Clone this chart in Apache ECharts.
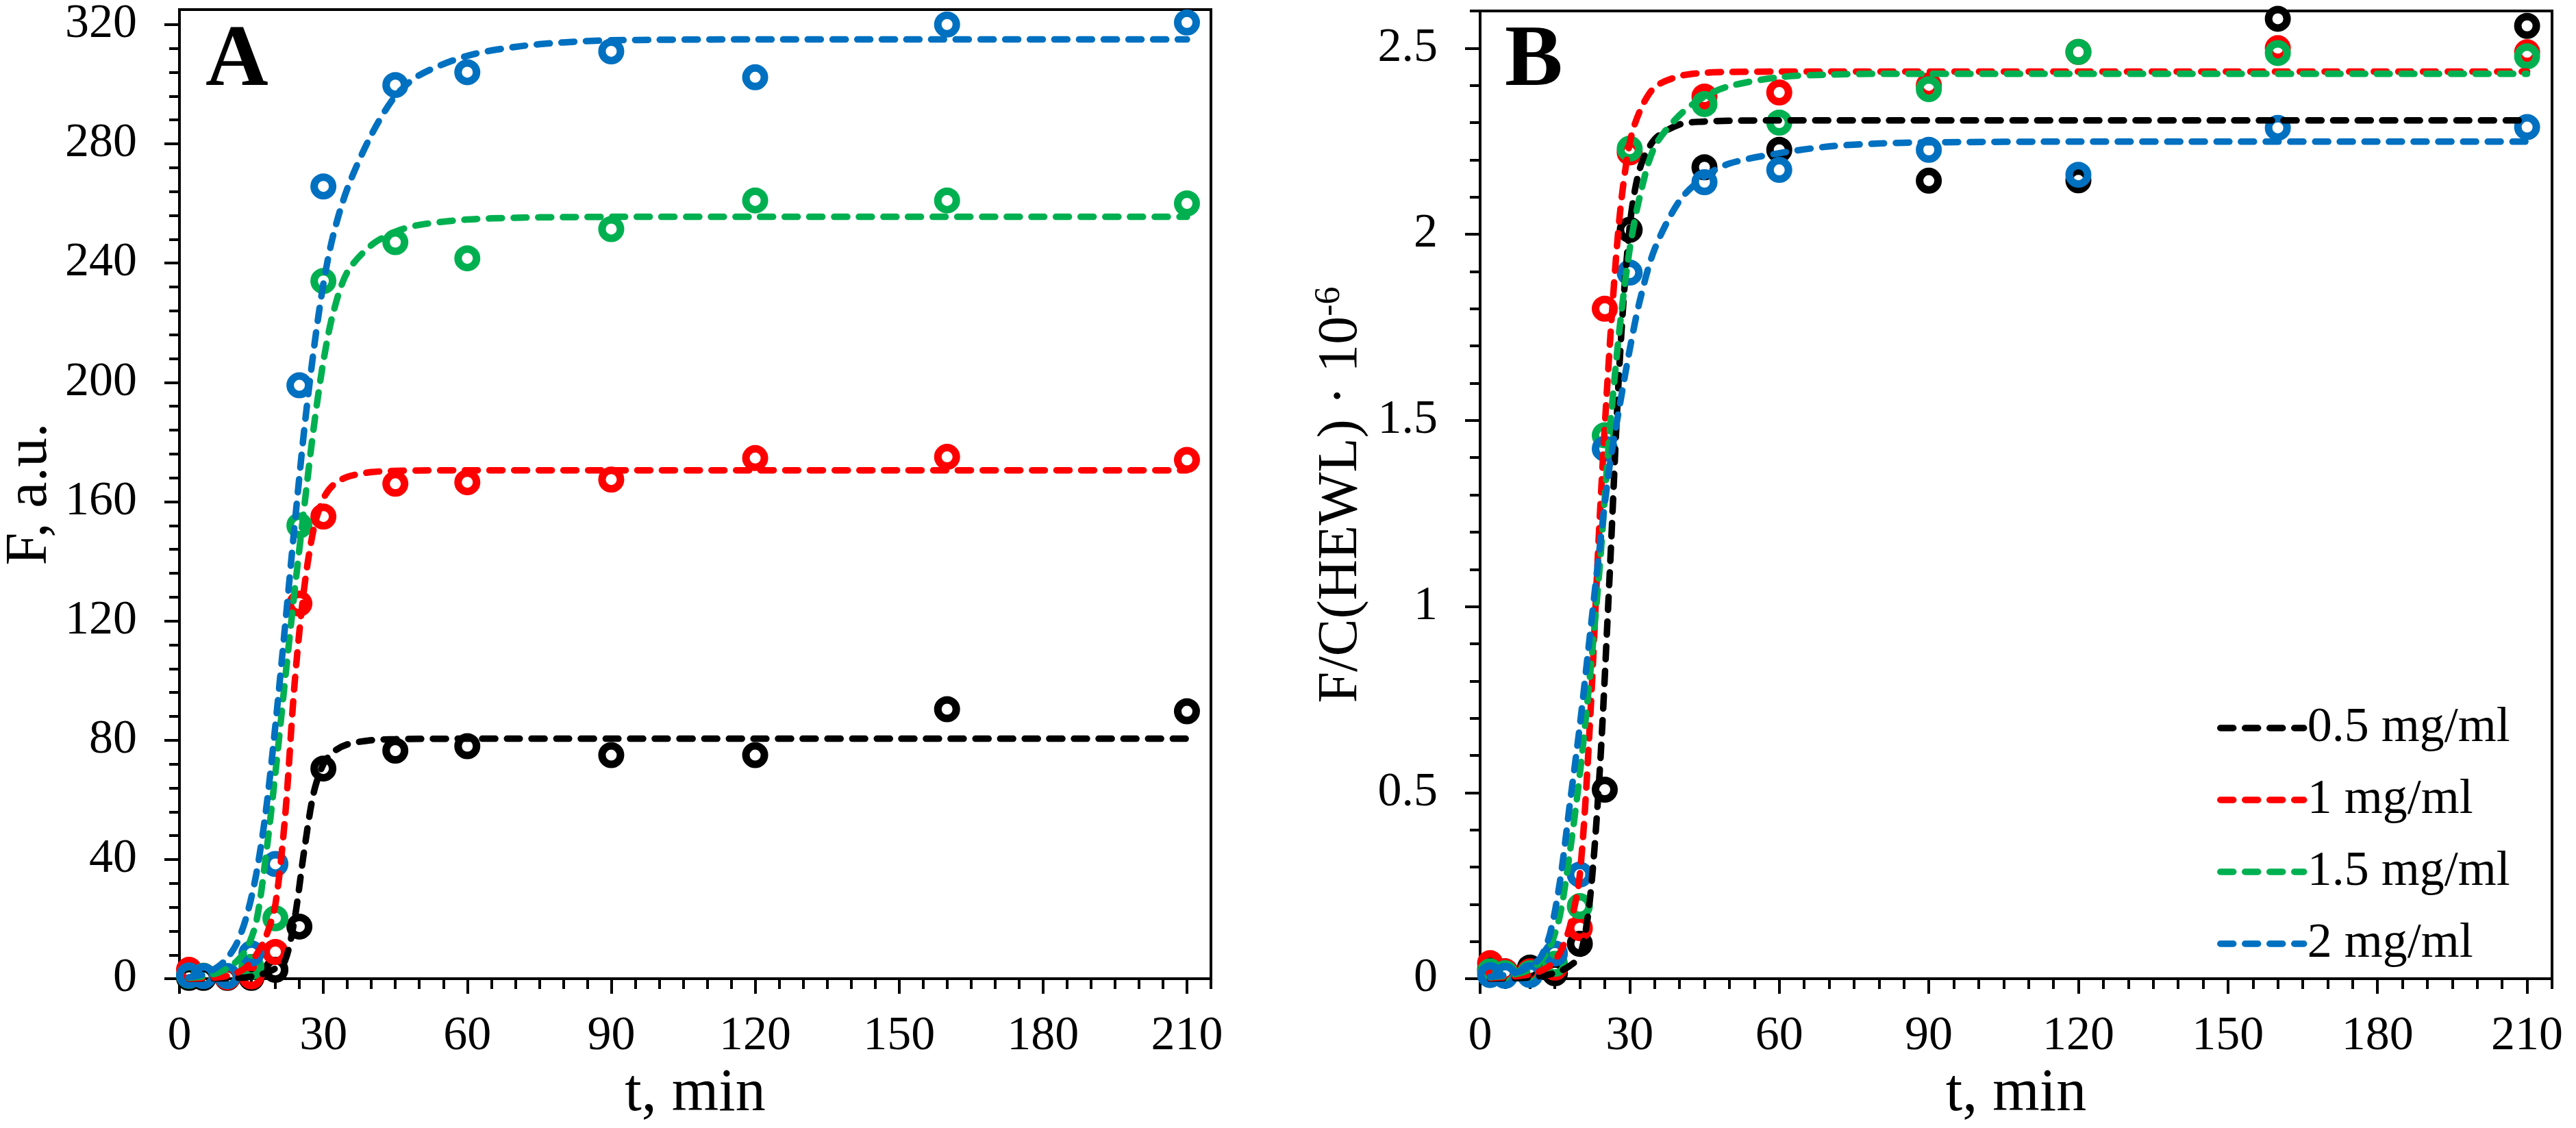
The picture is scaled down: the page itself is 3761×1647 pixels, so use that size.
<!DOCTYPE html>
<html><head><meta charset="utf-8">
<script src="https://cdn.jsdelivr.net/npm/echarts@6/dist/echarts.min.js"></script>
<style>html,body{margin:0;padding:0;background:#fff}#c{width:3761px;height:1647px}</style>
</head><body><div id="c"></div>
<script>
// ---------- data ----------
const seriesNames = ['0.5 mg/ml', '1 mg/ml', '1.5 mg/ml', '2 mg/ml'];
const colors = ['#000000', '#FF0000', '#00B050', '#0070C0'];

// measured points (circles)
const tPts = [2, 5, 10, 15, 20, 25, 30, 45, 60, 90, 120, 160, 210];
const ptsA_05 = [0.3, 0.3, 0.3, 0.3, 3, 17.5, 70.5, 76.5, 78, 75, 75, 90.4, 89.7];
const ptsA_1  = [3, 1, 0.5, 0.8, 9, 125.8, 155, 166, 166.5, 167.4, 174.6, 175, 174];
const ptsA_15 = [1, 1, 0.9, 4, 20.3, 152, 234, 247, 241.6, 251.4, 261, 261, 260];
const ptsA_2  = [1.1, 0.9, 0.9, 8.5, 38.5, 199, 265.7, 299.7, 304, 311, 302.3, 320, 320.7];

const ptsB_05 = [0.025, 0.02, 0.03, 0.015, 0.094, 0.508, 2.012, 2.18, 2.227, 2.144, 2.145, 2.579, 2.56];
const ptsB_1  = [0.042, 0.02, 0.02, 0.03, 0.136, 1.80, 2.22, 2.37, 2.381, 2.40, 2.49, 2.50, 2.489];
const ptsB_15 = [0.02, 0.015, 0.015, 0.04, 0.195, 1.46, 2.23, 2.35, 2.30, 2.39, 2.49, 2.487, 2.478];
const ptsB_2  = [0.01, 0.008, 0.01, 0.068, 0.28, 1.424, 1.897, 2.14, 2.173, 2.227, 2.16, 2.286, 2.288];

// fitted curves (dashed)
const tFit = [2, 5, 8, 10, 12, 14, 16, 18, 20, 22, 24, 26, 28, 30, 32, 35, 40, 45, 50, 60, 70, 80, 90, 120, 150, 180, 210];
const fitA_05 = [0, 0, 0.1, 0.2, 0.3, 0.5, 1, 2, 3.5, 6, 20, 43, 62.5, 72, 76, 78.6, 80, 80.35, 80.45, 80.5, 80.5, 80.5, 80.5, 80.5, 80.5, 80.5, 80.5];
const fitA_1  = [0, 0.2, 0.5, 1, 2, 4, 8, 14, 25, 54, 99, 131, 151, 161, 165.5, 168.3, 169.9, 170.3, 170.45, 170.5, 170.5, 170.5, 170.5, 170.5, 170.5, 170.5, 170.5];
const fitA_15 = [0.3, 0.8, 2, 3.5, 6, 10, 19, 41, 69, 100, 130, 158, 185, 207, 223, 237, 246, 250.5, 252.8, 254.6, 255.2, 255.4, 255.5, 255.5, 255.5, 255.5, 255.5];
const fitA_2  = [0.5, 1.5, 4, 7, 12, 21, 35, 56, 85, 118, 152, 184, 211, 233, 249, 265, 283, 296, 303, 309.5, 312.5, 314, 314.7, 315, 315, 315, 315];

const fitB_05 = [0, 0.001, 0.002, 0.004, 0.007, 0.012, 0.02, 0.035, 0.06, 0.21, 0.56, 1.09, 1.66, 2.02, 2.175, 2.255, 2.295, 2.303, 2.305, 2.306, 2.306, 2.306, 2.306, 2.306, 2.306, 2.306, 2.306];
const fitB_1  = [0.002, 0.004, 0.008, 0.012, 0.02, 0.035, 0.07, 0.14, 0.28, 0.68, 1.24, 1.70, 2.05, 2.245, 2.33, 2.395, 2.425, 2.434, 2.436, 2.437, 2.437, 2.437, 2.437, 2.437, 2.437, 2.437, 2.437];
const fitB_15 = [0.004, 0.008, 0.015, 0.025, 0.045, 0.085, 0.17, 0.34, 0.55, 0.81, 1.11, 1.47, 1.75, 1.96, 2.1, 2.235, 2.32, 2.37, 2.398, 2.422, 2.429, 2.431, 2.431, 2.431, 2.431, 2.431, 2.431];
const fitB_2  = [0.005, 0.01, 0.02, 0.035, 0.055, 0.12, 0.26, 0.47, 0.68, 0.92, 1.16, 1.38, 1.54, 1.69, 1.82, 1.96, 2.09, 2.155, 2.19, 2.218, 2.236, 2.244, 2.247, 2.249, 2.249, 2.249, 2.249];

// axis ticks
const xMajor = [0, 30, 60, 90, 120, 150, 180, 210];
const yMajorA = [0, 40, 80, 120, 160, 200, 240, 280, 320];
const yMinorA = [0, 8, 16, 24, 32, 40, 48, 56, 64, 72, 80, 88, 96, 104, 112, 120, 128, 136, 144, 152, 160, 168, 176, 184, 192, 200, 208, 216, 224, 232, 240, 248, 256, 264, 272, 280, 288, 296, 304, 312, 320];
const yMajorB = [0, 0.5, 1, 1.5, 2, 2.5];

// ---------- chart ----------
const FONT = 'Liberation Serif';
const chart = echarts.init(document.getElementById('c'), null, {renderer: 'canvas', devicePixelRatio: 1});

const grids = [
  {left: 260, top: 14, width: 1508, height: 1431},
  {left: 2161, top: 16, width: 1565, height: 1427}
];

const LINE_W = 9.5;
const DASH = [19, 17];

function majorX(gi) {
  return {
    type: 'value', gridIndex: gi, position: 'bottom', min: 0, max: 215, interval: 30,
    axisLine: {show: true, onZero: false, lineStyle: {color: '#000', width: 4}},
    axisTick: {show: true, inside: false, length: 22, lineStyle: {color: '#000', width: 4}, customValues: xMajor},
    axisLabel: {show: true, margin: 50, fontFamily: FONT, fontSize: 70, color: '#000', customValues: xMajor},
    splitLine: {show: false},
    name: 't, min', nameLocation: 'middle', nameGap: 114,
    nameTextStyle: {fontFamily: FONT, fontSize: 88, color: '#000'}
  };
}
function minorX(gi) {
  return {
    type: 'value', gridIndex: gi, position: 'bottom', min: 0, max: 215, interval: 5,
    axisLine: {show: false, onZero: false},
    axisTick: {show: true, inside: false, length: 15, lineStyle: {color: '#000', width: 4}},
    axisLabel: {show: false}, splitLine: {show: false}
  };
}

const option = {
  animation: false,
  backgroundColor: '#fff',
  grid: grids.map(g => Object.assign({show: true, borderColor: '#000', borderWidth: 4, backgroundColor: 'transparent'}, g)),
  title: [
    {text: 'A', left: 300, top: 28, padding: 0, textStyle: {fontFamily: FONT, fontSize: 127, fontWeight: 'bold', color: '#000'}},
    {text: 'B', left: 2197, top: 28, padding: 0, textStyle: {fontFamily: FONT, fontSize: 127, fontWeight: 'bold', color: '#000'}}
  ],
  legend: {
    show: true, orient: 'vertical', left: 3232, top: 1022,
    itemWidth: 122, itemHeight: 24, itemGap: 33,
    data: seriesNames,
    itemStyle: {opacity: 0},
    lineStyle: {width: LINE_W, type: DASH, cap: 'round'},
    textStyle: {fontFamily: FONT, fontSize: 72, color: '#000', lineHeight: 72}
  },
  xAxis: [majorX(0), minorX(0), majorX(1), minorX(1)],
  yAxis: [
    {
      type: 'value', gridIndex: 0, position: 'left', min: 0, max: 325, interval: 40,
      axisLine: {show: true, onZero: false, lineStyle: {color: '#000', width: 4}},
      axisTick: {show: true, inside: false, length: 22, lineStyle: {color: '#000', width: 4}, customValues: yMajorA},
      axisLabel: {show: true, margin: 62, fontFamily: FONT, fontSize: 70, color: '#000', customValues: yMajorA},
      splitLine: {show: false},
      name: 'F, a.u.', nameLocation: 'middle', nameGap: 175,
      nameTextStyle: {fontFamily: FONT, fontSize: 86, color: '#000'}
    },
    {
      type: 'value', gridIndex: 0, position: 'left', min: 0, max: 325, interval: 8,
      axisLine: {show: false, onZero: false},
      axisTick: {show: true, inside: false, length: 15, lineStyle: {color: '#000', width: 4}, customValues: yMinorA},
      axisLabel: {show: false}, splitLine: {show: false}
    },
    {
      type: 'value', gridIndex: 1, position: 'left', min: 0, max: 2.6, interval: 0.5,
      axisLine: {show: true, onZero: false, lineStyle: {color: '#000', width: 4}},
      axisTick: {show: true, inside: false, length: 22, lineStyle: {color: '#000', width: 4}, customValues: yMajorB},
      axisLabel: {show: true, margin: 62, fontFamily: FONT, fontSize: 70, color: '#000', customValues: yMajorB},
      splitLine: {show: false},
      name: 'F/C(HEWL) · 10{sup|-6}', nameLocation: 'middle', nameGap: 160,
      nameTextStyle: {fontFamily: FONT, fontSize: 82, color: '#000',
        rich: {sup: {fontFamily: FONT, fontSize: 52, color: '#000', verticalAlign: 'top', padding: [0, 0, 34, 0]}}}
    },
    {
      type: 'value', gridIndex: 1, position: 'left', min: 0, max: 2.6, interval: 0.1,
      axisLine: {show: false, onZero: false},
      axisTick: {show: true, inside: false, length: 15, lineStyle: {color: '#000', width: 4}},
      axisLabel: {show: false}, splitLine: {show: false}
    }
  ],
  series: []
};

const panels = [
  {xi: 0, yi: 0, pts: [ptsA_05, ptsA_1, ptsA_15, ptsA_2], fits: [fitA_05, fitA_1, fitA_15, fitA_2], tag: 'A'},
  {xi: 2, yi: 2, pts: [ptsB_05, ptsB_1, ptsB_15, ptsB_2], fits: [fitB_05, fitB_1, fitB_15, fitB_2], tag: 'B'}
];

panels.forEach(p => {
  p.pts.forEach((vals, i) => {
    option.series.push({
      type: 'scatter', name: p.tag + ' points ' + seriesNames[i],
      xAxisIndex: p.xi, yAxisIndex: p.yi, z: 2, silent: true,
      symbol: 'circle', symbolSize: 27,
      itemStyle: {color: 'rgba(255,255,255,0)', borderColor: colors[i], borderWidth: 11, opacity: 1},
      data: tPts.map((t, k) => [t, vals[k]])
    });
  });
});
panels.forEach(p => {
  p.fits.forEach((vals, i) => {
    option.series.push({
      type: 'line', name: seriesNames[i],
      xAxisIndex: p.xi, yAxisIndex: p.yi, z: 3, silent: true,
      symbol: 'none', showSymbol: false, smooth: 0.3,
      lineStyle: {color: colors[i], width: LINE_W, type: DASH, cap: 'round'},
      itemStyle: {color: colors[i]},
      data: tFit.map((t, k) => [t, vals[k]])
    });
  });
});

chart.setOption(option);
</script>
</body></html>
